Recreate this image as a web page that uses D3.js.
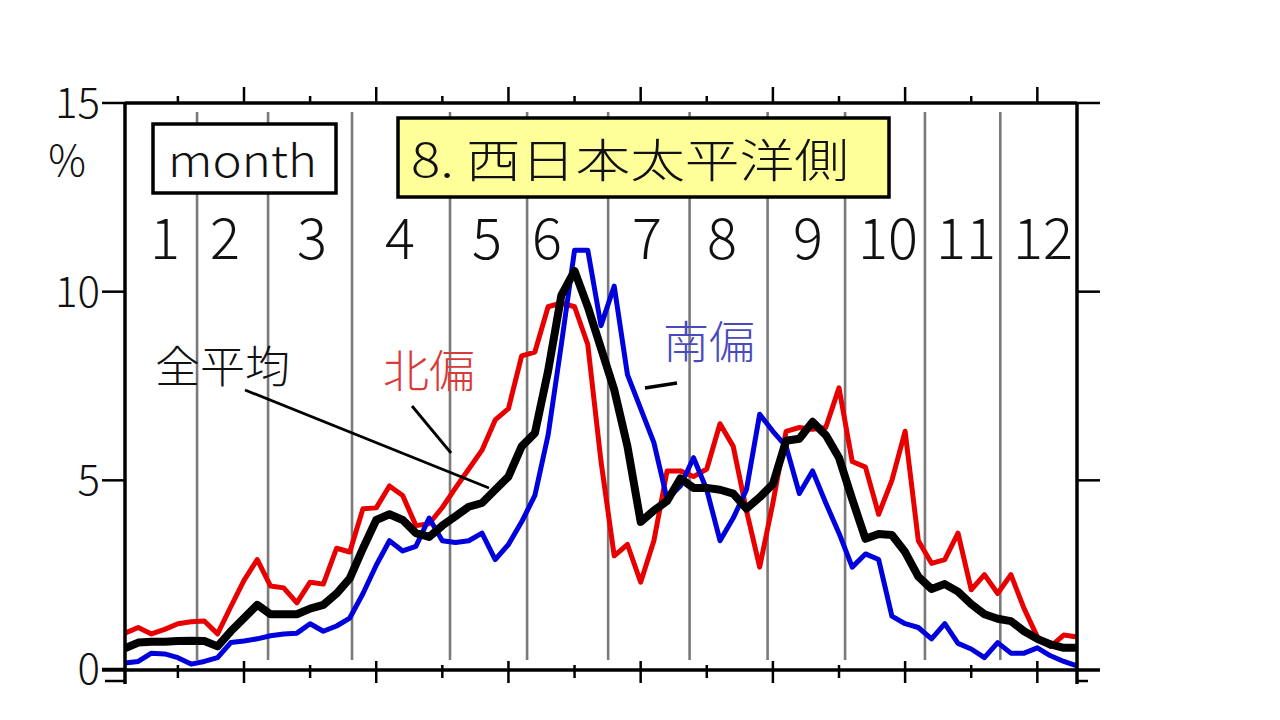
<!DOCTYPE html>
<html><head><meta charset="utf-8">
<script src="https://cdn.jsdelivr.net/npm/d3@7"></script>
<style>
body{margin:0;background:#fff}
text{font-family:"Noto Sans CJK JP","Noto Sans",sans-serif;font-weight:300}
</style>
</head><body>
<svg id="c" width="1280" height="720"></svg>
<script>
// ---- data (pentads 1..73, %) ----
const pentads = d3.range(1, 74);
const northSeries = [0.95,1.1,0.93,1.05,1.2,1.25,1.27,0.93,1.65,2.35,
  2.9,2.2,2.15,1.75,2.3,2.25,3.2,3.1,4.25,4.27,
  4.85,4.6,3.8,3.85,4.28,4.8,5.3,5.8,6.6,6.9,
  8.3,8.4,9.6,9.7,9.6,8.6,5.5,3.0,3.3,2.3,
  3.4,5.25,5.25,5.1,5.3,6.5,5.9,4.2,2.7,4.4,
  6.3,6.4,6.35,6.4,7.45,5.5,5.35,4.1,5.0,6.3,
  3.4,2.8,2.9,3.6,2.1,2.5,2.0,2.5,1.6,0.85,
  0.6,0.9,0.85];
const southSeries = [0.16,0.2,0.42,0.4,0.3,0.13,0.2,0.3,0.7,0.74,
  0.8,0.88,0.93,0.95,1.2,1.0,1.14,1.35,2.0,2.75,
  3.4,3.13,3.25,4.0,3.4,3.35,3.4,3.6,2.9,3.3,
  3.9,4.6,6.2,8.6,11.1,11.1,9.1,10.15,7.8,6.9,
  6.0,4.5,4.85,5.6,4.75,3.4,4.0,4.75,6.75,6.3,
  5.9,4.65,5.25,4.4,3.6,2.7,3.05,2.9,1.4,1.2,
  1.1,0.8,1.2,0.68,0.53,0.3,0.7,0.42,0.42,0.56,
  0.35,0.2,0.08];
const allSeries = [0.55,0.7,0.72,0.72,0.74,0.75,0.74,0.6,1.0,1.35,
  1.7,1.45,1.45,1.45,1.6,1.7,2.0,2.4,3.2,3.95,
  4.1,3.95,3.6,3.5,3.8,4.05,4.3,4.4,4.75,5.1,
  5.9,6.25,7.9,9.9,10.55,9.6,8.5,7.4,5.9,3.9,
  4.2,4.45,5.05,4.8,4.8,4.75,4.65,4.25,4.55,4.9,
  6.05,6.1,6.55,6.2,5.6,4.5,3.45,3.58,3.55,3.1,
  2.45,2.12,2.25,2.05,1.72,1.45,1.33,1.27,1.0,0.8,
  0.65,0.56,0.56];
const monthLabels = ["1","2","3","4","5","6","7","8","9","10","11","12"];
const yTickValues = [0, 5, 10, 15];
const yTickLabels = ["0", "5", "10", "15"];
const xMajorTicks = [10, 20, 30, 40, 50, 60, 70];
const xMinorTicks = [5, 15, 25, 35, 45, 55, 65];
const monthDividers = [6.45, 11.82, 18.17, 25.58, 31.41, 37.54, 43.7, 49.6, 55.46, 61.5, 67.2];
const titleText = "8. 西日本太平洋側";
const boxText = "month";
const labelAll = "全平均", labelNorth = "北偏", labelSouth = "南偏";

// ---- layout ----
const monthLabelAt = [4.03, 8.56, 15.14, 21.8, 28.38, 32.92, 40.48, 46.15, 52.66, 58.71, 64.61, 70.43];
const svg = d3.select("#c");
const x = d3.scaleLinear().domain([1, 73]).range([125, 1077]);
const y = d3.scaleLinear().domain([0, 15]).range([669, 103]);
const L = 125, R = 1077, T = 103, B = 670;

// month divider lines
svg.append("g").selectAll("line").data(monthDividers).join("line")
  .attr("x1", d => x(d)).attr("x2", d => x(d))
  .attr("y1", 112).attr("y2", 660)
  .attr("stroke", "#7a7a7a").attr("stroke-width", 2.6);

// month labels
svg.append("g").selectAll("text").data(monthLabels).join("text")
  .attr("x", (d, i) => x(monthLabelAt[i])).attr("y", 259)
  .attr("text-anchor", "middle").attr("font-size", 56).attr("fill", "#111")
  .text(d => d);

// series lines
const line = d3.line().x((d, i) => x(pentads[i])).y(d => y(d));
const drawSeries = (vals, color, w) => svg.append("path").datum(vals)
  .attr("d", line).attr("fill", "none").attr("stroke", color)
  .attr("stroke-width", w).attr("stroke-linejoin", "round");
drawSeries(northSeries, "#e80000", 5);
drawSeries(southSeries, "#0000dd", 5);
drawSeries(allSeries, "#000", 8);

// frame
const frame = svg.append("g").attr("stroke", "#000");
frame.append("line").attr("x1", L).attr("x2", R).attr("y1", T).attr("y2", T).attr("stroke-width", 3.5);
frame.append("line").attr("x1", 102).attr("x2", 1100).attr("y1", B).attr("y2", B).attr("stroke-width", 3.5);
frame.append("line").attr("x1", L).attr("x2", L).attr("y1", T).attr("y2", 684).attr("stroke-width", 3.5);
frame.append("line").attr("x1", R).attr("x2", R).attr("y1", T).attr("y2", 684).attr("stroke-width", 3.5);

// y ticks both sides
frame.selectAll(".yl").data(yTickValues).join("line").attr("class","yl")
  .attr("x1", 102).attr("x2", L).attr("y1", d => y(d)).attr("y2", d => y(d)).attr("stroke-width", 2.5);
frame.selectAll(".yr").data(yTickValues.filter(v => v > 0)).join("line").attr("class","yr")
  .attr("x1", R).attr("x2", 1100).attr("y1", d => y(d)).attr("y2", d => y(d)).attr("stroke-width", 2.5);
frame.append("line").attr("x1", 105).attr("x2", L).attr("y1", 681).attr("y2", 681).attr("stroke-width", 2.5);
frame.append("line").attr("x1", R).attr("x2", 1088).attr("y1", 681).attr("y2", 681).attr("stroke-width", 2.5);

// x ticks top & bottom
frame.selectAll(".tM").data(xMajorTicks).join("line").attr("class","tM")
  .attr("x1", d => x(d)).attr("x2", d => x(d)).attr("y1", 87).attr("y2", T).attr("stroke-width", 2.5);
frame.selectAll(".tm").data(xMinorTicks).join("line").attr("class","tm")
  .attr("x1", d => x(d)).attr("x2", d => x(d)).attr("y1", 96).attr("y2", T).attr("stroke-width", 2.5);
frame.selectAll(".bM").data(xMajorTicks).join("line").attr("class","bM")
  .attr("x1", d => x(d)).attr("x2", d => x(d)).attr("y1", 661).attr("y2", 683).attr("stroke-width", 2.5);
frame.selectAll(".bm").data(xMinorTicks).join("line").attr("class","bm")
  .attr("x1", d => x(d)).attr("x2", d => x(d)).attr("y1", 665).attr("y2", 678).attr("stroke-width", 2.5);

// y tick labels
svg.append("g").selectAll("text").data(yTickValues).join("text")
  .attr("x", 100).attr("y", d => y(d) + 15)
  .attr("text-anchor", "end").attr("font-size", 42).attr("fill", "#111")
  .text((d, i) => yTickLabels[i]);
svg.append("text").attr("x", 67).attr("y", 176).attr("text-anchor", "middle")
  .attr("font-size", 42).attr("fill", "#111").text("%");

// month box
svg.append("rect").attr("x", 153).attr("y", 124).attr("width", 183).attr("height", 69)
  .attr("fill", "#fff").attr("stroke", "#000").attr("stroke-width", 3.5);
svg.append("text").attr("x", 168).attr("y", 177).attr("font-size", 44)
  .attr("textLength", 149).attr("lengthAdjust", "spacingAndGlyphs").attr("fill", "#111").text(boxText);

// title box
svg.append("rect").attr("x", 398).attr("y", 118).attr("width", 491).attr("height", 79)
  .attr("fill", "#ffff99").attr("stroke", "#000").attr("stroke-width", 3.5);
svg.append("text").attr("x", 411).attr("y", 177).attr("font-size", 46)
  .attr("textLength", 438).attr("lengthAdjust", "spacingAndGlyphs").attr("fill", "#111").text(titleText);

// annotations
svg.append("text").attr("x", 155).attr("y", 383).attr("font-size", 44)
  .attr("textLength", 135).attr("lengthAdjust", "spacingAndGlyphs").attr("fill", "#111").text(labelAll);
svg.append("text").attr("x", 383).attr("y", 388).attr("font-size", 45)
  .attr("textLength", 92).attr("lengthAdjust", "spacingAndGlyphs").attr("fill", "#d63a3a").text(labelNorth);
svg.append("text").attr("x", 663).attr("y", 359).attr("font-size", 45)
  .attr("textLength", 92).attr("lengthAdjust", "spacingAndGlyphs").attr("fill", "#4a4ac0").text(labelSouth);

const lead = svg.append("g").attr("stroke", "#000").attr("stroke-width", 2.8);
lead.append("line").attr("x1", 245).attr("y1", 390).attr("x2", 489).attr("y2", 488);
lead.append("line").attr("x1", 412).attr("y1", 406).attr("x2", 451).attr("y2", 453);
lead.append("line").attr("x1", 645).attr("y1", 388).attr("x2", 677).attr("y2", 383).attr("stroke-width", 3.5);
</script>
</body></html>
